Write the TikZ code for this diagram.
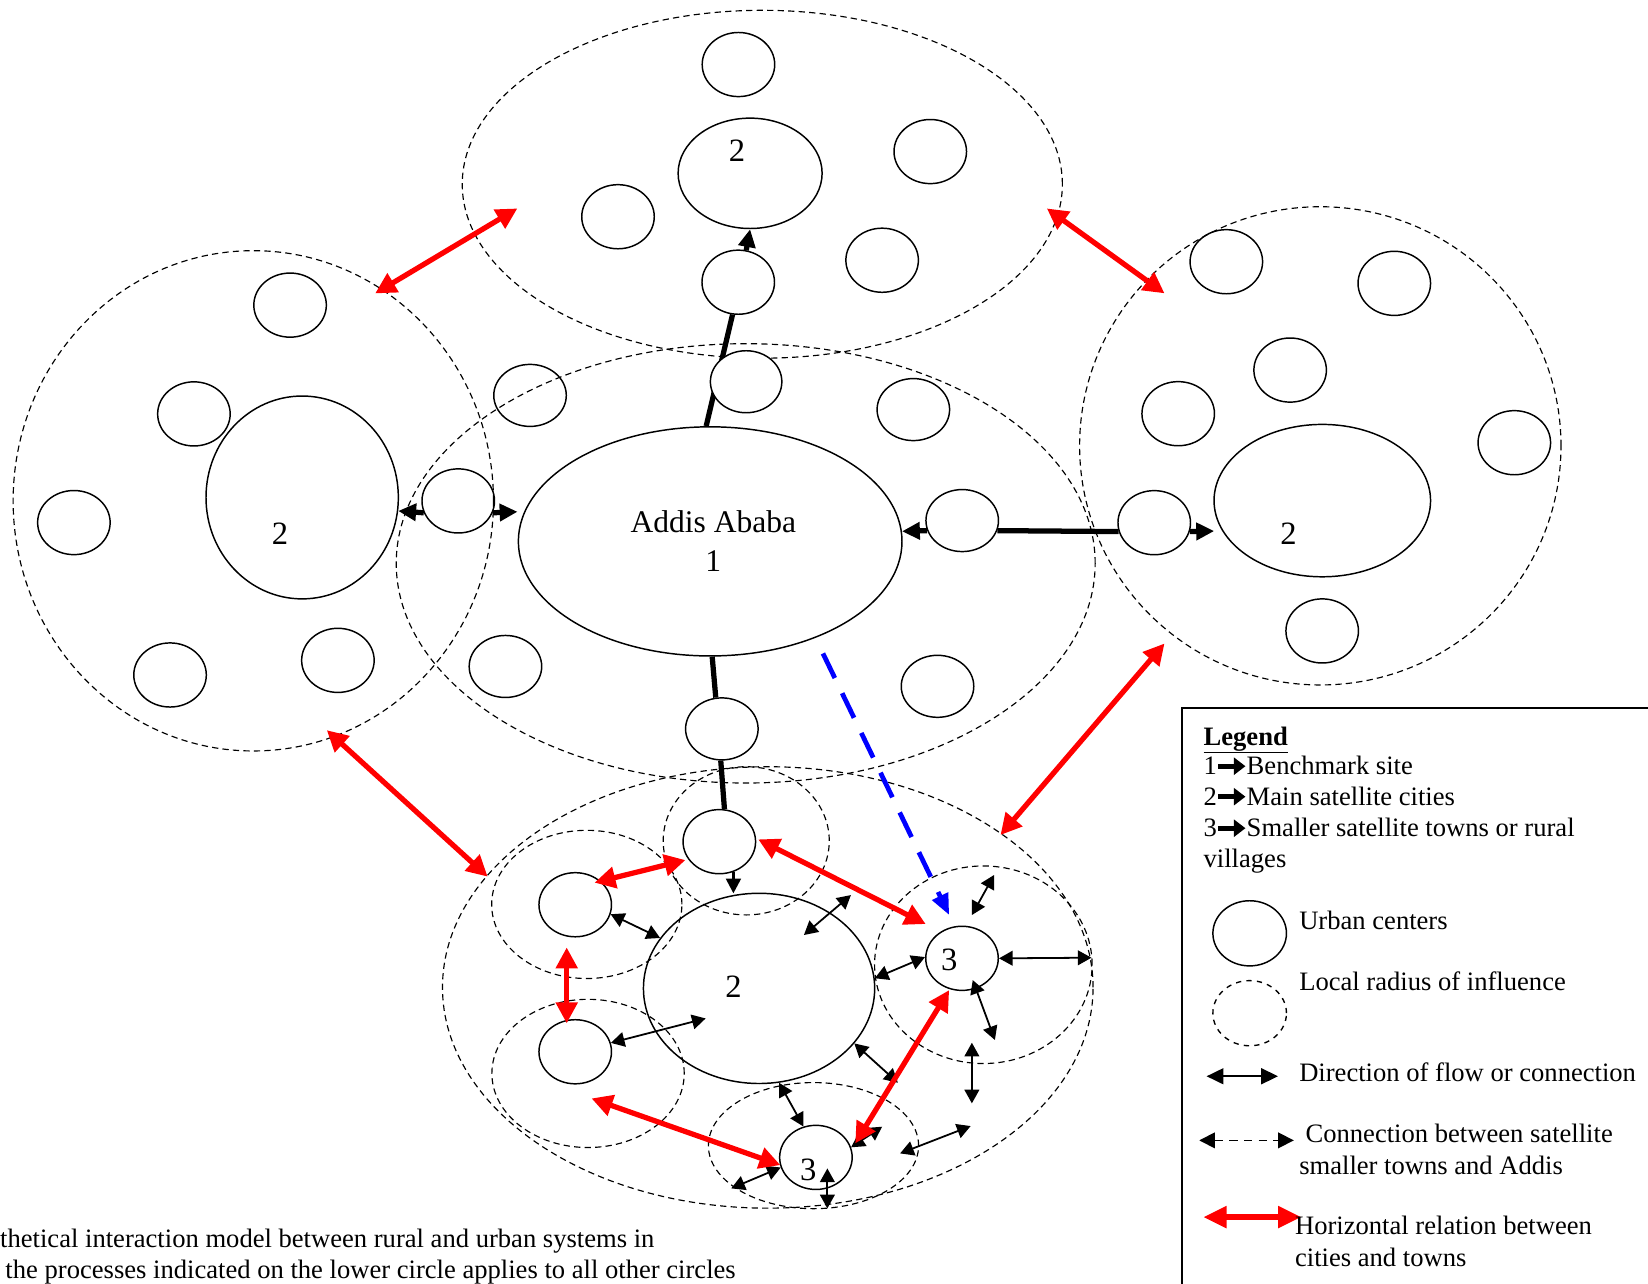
\documentclass[tikz,border=0pt]{standalone}
\usepackage{fontspec}
\setmainfont{Liberation Serif}
\usetikzlibrary{shapes.geometric,arrows.meta}
\pgfdeclarelayer{back}
\pgfsetlayers{back,main}
\begin{document}
\begin{tikzpicture}[x=1pt,y=-1pt,
  town/.style={ellipse,draw,line width=1.4pt,inner sep=0pt,minimum width=69pt,minimum height=61pt},
  hub/.style={town,fill=white},
  zone/.style={ellipse,draw,line width=1.1pt,dash pattern=on 6pt off 4pt,inner sep=0pt},
  num/.style={inner sep=0pt,font=\fontsize{31}{37}\selectfont},
  keytext/.style={inner sep=0pt,anchor=base west,font=\fontsize{25.3}{29}\selectfont},
  keyarrow/.style={line width=5pt,-{Triangle[length=11pt,width=16pt]}},
  trunk/.style={line width=5pt},
  trunkarrow/.style={line width=5pt,>={Triangle[length=17pt,width=16pt]},->},
  flow/.style={line width=1.7pt,>={Triangle[length=13pt,width=14pt]},<->},
  inflow/.style={line width=2.5pt,>={Triangle[length=14pt,width=14pt]},->},
  link/.style={red,line width=5pt,>={Triangle[length=20pt,width=20pt]},<->},
  satlink/.style={blue,line width=4.5pt,dash pattern=on 26pt off 16pt,>={Triangle[length=20pt,width=16pt]},->}
]
\useasboundingbox (0,0) rectangle (1568,1221);
\clip (0,0) rectangle (1568,1221);

% ---------- urban centres ----------
% northern cluster
\node[town] (tN1) at (702.6,61.4) {};
\node[town,minimum width=137pt,minimum height=105pt] (t2) at (713.7,164.9) {};
\node[town] (tW) at (588,206.2) {};
\node[town] (tE) at (885.1,144.2) {};
\node[town] (tSE) at (839.3,247.6) {};
\node[town] (tS) at (702.4,268.5) {};
\node[num] (lt2) at (701.2,143) {2};

% central cluster around the benchmark site
\node[town,minimum width=365pt,minimum height=218pt,align=center,
      font=\fontsize{30}{37}\selectfont] (addis) at (675.7,515.1) {\hspace*{6pt}Addis Ababa\\\hspace*{6pt}1};
\node[hub,minimum width=68pt,minimum height=59pt] (cN) at (709.9,363.2) {};
\node[town,minimum height=59pt] (cNW) at (504.3,376.2) {};
\node[town,minimum height=59pt] (cNE) at (869,389.7) {};
\node[town,minimum height=59pt] (cSW) at (480.9,634.1) {};
\node[town,minimum height=59pt] (cSE) at (892,653) {};
\node[town,minimum height=59pt] (cS) at (686.8,693.5) {};
\node[town] (cW) at (436,476.6) {};
\node[town,minimum height=59pt] (cE) at (915.5,495.3) {};

% eastern cluster
\node[town] (eA) at (1166.8,249) {};
\node[town] (eB) at (1326.6,269.6) {};
\node[town] (eC) at (1227.5,352.1) {};
\node[town] (eD) at (1121,393.6) {};
\node[town] (eE) at (1440.8,421.2) {};
\node[town] (eF) at (1258,600.3) {};
\node[town] (eG) at (1098.2,497.3) {};
\node[town,minimum width=206pt,minimum height=145pt] (e2) at (1258.1,476.3) {};
\node[num] (le2) at (1226,507.5) {2};

% western cluster
\node[town,minimum width=183pt,minimum height=193pt] (w2) at (287.5,473.3) {};
\node[town] (wA) at (276,290.3) {};
\node[town] (wB) at (184.5,393.8) {};
\node[town] (wC) at (70.3,497.2) {};
\node[town] (wD) at (161.8,642.2) {};
\node[town] (wE) at (321.5,628.3) {};
\node[num] (lw2) at (266.4,507.5) {2};

% southern cluster (detailed)
\node[town] (bt) at (684.4,800.8) {};
\node[town] (bl1) at (547.3,860.8) {};
\node[town] (bl2) at (547.3,1000.7) {};
\node[town,minimum width=220pt,minimum height=181pt] (b2) at (722.2,940.4) {};
\node[town] (b3r) at (915.3,911.8) {};
\node[town] (b3b) at (776.3,1101.2) {};
\node[num] (lb2) at (697.8,938.8) {2};
\node[num] (lb3r) at (903.1,913.4) {3};
\node[num] (lb3b) at (769,1113.3) {3};

% ---------- zones of influence and trunk roads ----------
\begin{pgfonlayer}{back}
\node[zone,minimum width=571pt,minimum height=331pt] (zoneN) at (725.3,175.3) {};
\node[zone,minimum width=665pt,minimum height=418pt] (zoneC) at (709.5,536) {};
\node[zone,minimum width=457pt,minimum height=476pt] (zoneW) at (241,476.5) {};
\node[zone,minimum width=458pt,minimum height=455pt] (zoneE) at (1256.2,424.2) {};
\node[zone,minimum width=619pt,minimum height=420pt] (zoneS) at (730.5,939.5) {};
\node[zone,minimum width=158pt,minimum height=141pt] (locT) at (710,800) {};
\node[zone,minimum width=181pt,minimum height=141pt] (locL1) at (558.3,860.5) {};
\node[zone,minimum width=183pt,minimum height=141pt] (locL2) at (559.5,1021.3) {};
\node[zone,minimum width=207pt,minimum height=188pt] (locR) at (935.6,917.9) {};
\node[zone,minimum width=200pt,minimum height=120pt] (locB) at (774,1090) {};

\draw[trunk] (addis.92.6) -- (tS.260);
\draw[trunk] (addis.271) -- (cS.101);
\draw[trunk] (cS.268) -- (bt.81);
\draw[trunk] (cE.-16) -- (eG.194);
\end{pgfonlayer}

% arrows along the trunk roads
\coordinate (tipE) at (1155.2,505.3);
\coordinate (tipA) at (492.4,486.9);
\draw[trunkarrow] (tS.76) -- (t2.south);
\draw[trunkarrow] (cE.196) -- (addis.3);
\draw[trunkarrow] (eG.-14) -- (tipE);
\draw[trunkarrow] (cW.199) -- (w2.-8);
\draw[trunkarrow] (cW.-19) -- (tipA);

% ---------- flows inside the southern cluster ----------
\coordinate (f1b) at (697.8,850);
\coordinate (f3a) at (764.9,889.6);
\coordinate (f3b) at (809.6,851.6);
\coordinate (f5b) at (1038.5,911.2);
\coordinate (f6a) at (924.7,870.6);
\coordinate (f6b) at (945.8,832.5);
\coordinate (f7a) at (925.5,932.5);
\coordinate (f7b) at (946.6,989.5);
\coordinate (f8a) at (924.7,992.1);
\coordinate (f8b) at (924.7,1049.8);
\coordinate (f9b) at (671.4,969);
\coordinate (f10b) at (854.3,1030.2);
\coordinate (f12b) at (839.3,1072);
\coordinate (f13a) at (856.4,1097.4);
\coordinate (f13b) at (923.5,1071.4);
\coordinate (f14a) at (695.7,1130.7);
\coordinate (f15a) at (787.2,1111.7);
\coordinate (f15b) at (787.2,1149.7);

\draw[inflow] (bt.-65) -- (f1b);
\draw[flow] (bl1.-15) -- (b2.153);
\draw[flow] (f3a) -- (f3b);
\draw[flow] (b2.5) -- (b3r.178);
\draw[flow] (b3r.east) -- (f5b);
\draw[flow] (f6a) -- (f6b);
\draw[flow] (f7a) -- (f7b);
\draw[flow] (f8a) -- (f8b);
\draw[flow] (bl2.14) -- (f9b);
\draw[flow] (b2.-30) -- (f10b);
\draw[flow] (b2.-78) -- (b3b.112);
\draw[flow] (b3b.16) -- (f12b);
\draw[flow] (f13a) -- (f13b);
\draw[flow] (f14a) -- (b3b.196);
\draw[flow] (f15a) -- (f15b);

% ---------- horizontal relations ----------
\coordinate (r1a) at (356.9,279.2);  \coordinate (r1b) at (492.3,198.3);
\coordinate (r2a) at (996,198.3);    \coordinate (r2b) at (1108,279.1);
\coordinate (r3a) at (310.9,694.7);  \coordinate (r3b) at (464,834.1);
\coordinate (r4a) at (1108,612.2);   \coordinate (r4b) at (951.9,794.5);
\coordinate (r5a) at (565.6,839.8);  \coordinate (r5b) at (652.2,818.3);
\coordinate (r6a) at (721.4,798.6);  \coordinate (r6b) at (880.8,879.2);
\coordinate (r7a) at (539.2,901.4);  \coordinate (r7b) at (539.2,973.7);
\coordinate (r8a) at (562.8,1045.1); \coordinate (r8b) at (742.5,1108.5);
\coordinate (r9a) at (903.1,942);    \coordinate (r9b) at (813.7,1087.9);
\draw[link] (r1a) -- (r1b);
\draw[link] (r2a) -- (r2b);
\draw[link] (r3a) -- (r3b);
\draw[link] (r4a) -- (r4b);
\draw[link] (r5a) -- (r5b);
\draw[link] (r6a) -- (r6b);
\draw[link] (r7a) -- (r7b);
\draw[link] (r8a) -- (r8b);
\draw[link] (r9a) -- (r9b);

% satellite town to Addis connection
\coordinate (sA) at (783,621.7);
\coordinate (sB) at (903.1,870.6);
\draw[satlink] (sA) -- (sB);

% ---------- legend ----------
\draw[line width=1.8pt] (1125,1300) -- (1125,674) -- (1600,674);
\node[keytext] (lgTitle) at (1145,709) {\underline{\textbf{Legend}}};

\node[keytext] (lgN1) at (1145,737) {1};
\node[keytext] (lg1) at (1186,737) {Benchmark site};
\node[keytext] (lgN2) at (1145,766) {2};
\node[keytext] (lg2) at (1186,766) {Main satellite cities};
\node[keytext] (lgN3) at (1145,796) {3};
\node[keytext] (lg3) at (1186,796) {Smaller satellite towns or rural};
\node[keytext] (lg3b) at (1145,825) {villages};
\coordinate (ka1) at (1159,729); \coordinate (kb1) at (1185,729);
\coordinate (ka2) at (1159,758); \coordinate (kb2) at (1185,758);
\coordinate (ka3) at (1159,788); \coordinate (kb3) at (1185,788);
\draw[keyarrow] (ka1) -- (kb1);
\draw[keyarrow] (ka2) -- (kb2);
\draw[keyarrow] (ka3) -- (kb3);

\node[town,minimum width=70pt,minimum height=62pt] (keyCity) at (1189,888) {};
\node[keytext] (lgCity) at (1236,884) {Urban centers};
\node[ellipse,draw,line width=1.3pt,dash pattern=on 5pt off 5pt,inner sep=0pt,
      minimum width=70pt,minimum height=62pt] (keyZone) at (1189,964) {};
\node[keytext] (lgZone) at (1236,942) {Local radius of influence};

\coordinate (kf1) at (1148,1024); \coordinate (kf2) at (1216,1024);
\draw[line width=2pt,>={Triangle[length=16pt,width=15pt]},<->] (kf1) -- (kf2);
\node[keytext] (lgFlow) at (1236,1029) {Direction of flow or connection};

\coordinate (kd1) at (1141,1085); \coordinate (kd2) at (1231,1085);
\draw[line width=1.6pt,dash pattern=on 8pt off 6pt,>={Triangle[length=15pt,width=15pt]},<->] (kd1) -- (kd2);
\node[keytext] (lgSat1) at (1242,1087) {Connection between satellite};
\node[keytext] (lgSat2) at (1236,1117) {smaller towns and Addis};

\coordinate (kr1) at (1145,1158); \coordinate (kr2) at (1238,1158);
\draw[red,line width=5pt,>={Triangle[length=22pt,width=20pt]},<->] (kr1) -- (kr2);
\node[keytext] (lgRel1) at (1232,1175) {Horizontal relation between};
\node[keytext] (lgRel2) at (1232,1205) {cities and towns};

% ---------- caption ----------
\node[keytext] (cap1) at (0,1187) {thetical interaction model between rural and urban systems in};
\node[keytext] (cap2) at (5,1216) {the processes indicated on the lower circle applies to all other circles};
\end{tikzpicture}
\end{document}
